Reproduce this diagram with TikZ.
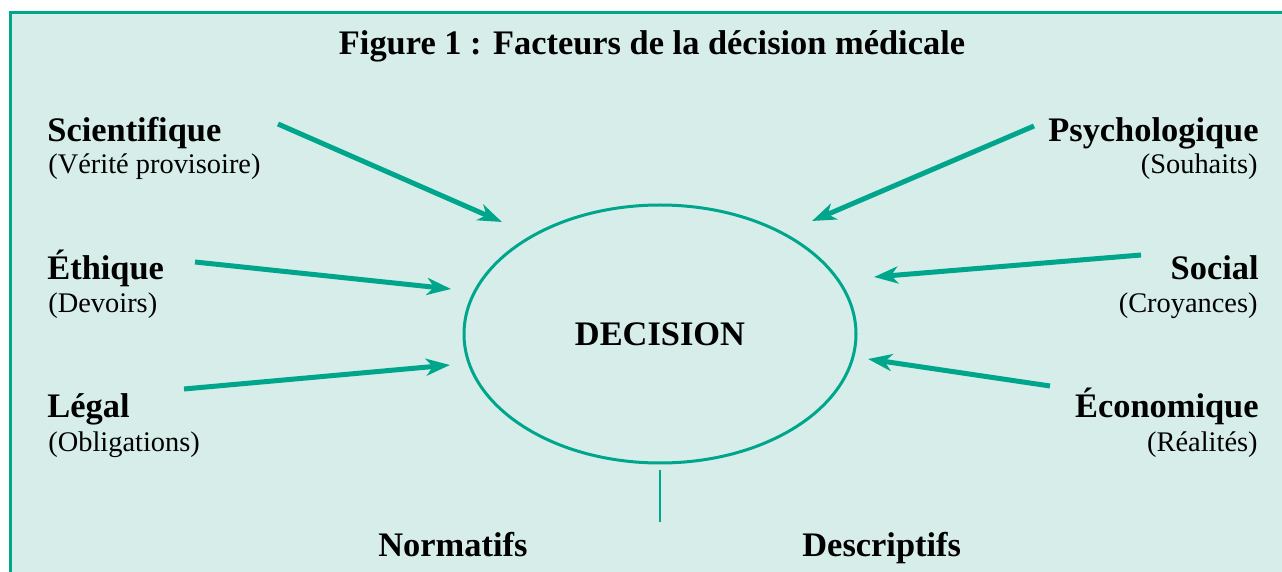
\documentclass[tikz,border=0pt]{standalone}
\usepackage{fontspec}
\setmainfont{Liberation Serif}
\usepackage{tikz}
\usetikzlibrary{arrows.meta}
\usetikzlibrary{shapes.geometric}
\definecolor{mint}{RGB}{214,237,233}
\definecolor{vert}{RGB}{0,166,140}
\tikzstyle{factor}=[inner sep=0pt, font=\fontsize{17.2}{20}\selectfont\bfseries]
\tikzstyle{detail}=[inner sep=0pt, font=\fontsize{14.2}{17}\selectfont]
\tikzstyle{decision}=[ellipse, draw=vert, line width=1.5pt, minimum width=196pt, minimum height=129pt, inner sep=0pt, font=\fontsize{17.2}{20}\selectfont\bfseries]
\tikzstyle{arrow}=[-{Stealth[length=12pt,width=8.5pt,inset=3.5pt]}, draw=vert, line width=2.5pt]
\tikzset{every picture/.style={
    x=0.5pt, y=-0.5pt
  }
}

\begin{document}
\begin{tikzpicture}
      \useasboundingbox (0,0) rectangle (1282,572);
      \fill[mint] (10,13) rectangle (1282,572);
      \draw[vert, line width=1.5pt] (1282,13) -- (10,13) -- (10,572);
      \node[factor, anchor=base] at (652,55) (title) {Figure 1 : Facteurs de la décision médicale};
      % left factors
      \node[factor, anchor=base west] at (47,142) (sci) {Scientifique};
      \node[detail, anchor=base west] at (48,174) (scisub) {(Vérité provisoire)};
      \node[factor, anchor=base west] at (47,280) (eth) {Éthique};
      \node[detail, anchor=base west] at (48,313) (ethsub) {(Devoirs)};
      \node[factor, anchor=base west] at (47,418) (leg) {Légal};
      \node[detail, anchor=base west] at (48,452) (legsub) {(Obligations)};
      % right factors
      \node[factor, anchor=base east] at (1259,142) (psy) {Psychologique};
      \node[detail, anchor=base east] at (1258,174) (psysub) {(Souhaits)};
      \node[factor, anchor=base east] at (1259,280) (soc) {Social};
      \node[detail, anchor=base east] at (1258,313) (socsub) {(Croyances)};
      \node[factor, anchor=base east] at (1259,418) (eco) {Économique};
      \node[detail, anchor=base east] at (1258,452) (ecosub) {(Réalités)};
      % centre
      \node[decision] at (660,334) (dec) {DECISION};
      \coordinate (split) at (660,470);
      \coordinate (splitend) at (660,522);
      \draw[vert, line width=0.8pt] (split) -- (splitend);
      \node[factor, anchor=base west] at (378,557) (norm) {Normatifs};
      \node[factor, anchor=base west] at (802,557) (desc) {Descriptifs};
      % arrows
      \coordinate (sciA) at (278,124);
      \coordinate (sciB) at (502,222);
      \coordinate (ethA) at (195,262);
      \coordinate (ethB) at (451,289);
      \coordinate (legA) at (184,389);
      \coordinate (legB) at (450,365);
      \coordinate (psyA) at (1034,126);
      \coordinate (psyB) at (812,221);
      \coordinate (socA) at (1141,255);
      \coordinate (socB) at (874,277);
      \coordinate (ecoA) at (1050,386);
      \coordinate (ecoB) at (868,359);
      \draw[arrow] (sciA) -- (sciB);
      \draw[arrow] (ethA) -- (ethB);
      \draw[arrow] (legA) -- (legB);
      \draw[arrow] (psyA) -- (psyB);
      \draw[arrow] (socA) -- (socB);
      \draw[arrow] (ecoA) -- (ecoB);
    \end{tikzpicture}
\end{document}
